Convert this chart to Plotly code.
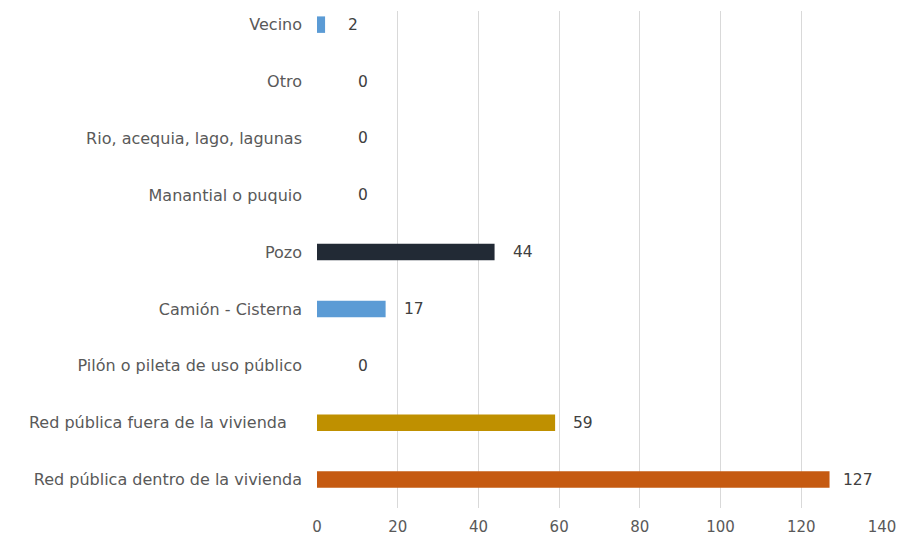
import plotly.graph_objects as go

categories = [
    "Red pública dentro de la vivienda",
    "Red pública fuera de la vivienda\u00a0\u00a0\u00a0",
    "Pilón o pileta de uso público",
    "Camión - Cisterna",
    "Pozo",
    "Manantial o puquio",
    "Rio, acequia, lago, lagunas",
    "Otro",
    "Vecino",
]
values = [127, 59, 0, 17, 44, 0, 0, 0, 2]
bar_colors = ["#C55A11", "#BF9000", "#5B9BD5", "#5B9BD5", "#222A35",
              "#5B9BD5", "#5B9BD5", "#5B9BD5", "#5B9BD5"]
x_ticks = [0, 20, 40, 60, 80, 100, 120, 140]

FONT = "DejaVu Sans"

fig = go.Figure()
fig.add_trace(go.Bar(
    x=values, y=categories, orientation="h",
    marker=dict(color=bar_colors, line=dict(width=0)),
    width=0.29, hoverinfo="skip",
))

for v, c in zip(values, categories):
    fig.add_annotation(
        x=v, y=c, text=str(v), showarrow=False,
        xanchor="center", yanchor="middle",
        xshift=46 if v == 0 else 28,
        font=dict(family=FONT, size=15.5, color="#404040"),
    )

# page body has an 8px default margin, so the figure is offset by 8px
fig.update_layout(
    width=898, height=532,
    margin=dict(l=309, r=24, t=3, b=31.5, autoexpand=False),
    paper_bgcolor="white", plot_bgcolor="white",
    showlegend=False,
    font=dict(family=FONT, size=16, color="#595959"),
    xaxis=dict(
        range=[0, 140], tickvals=x_ticks, showgrid=True,
        gridcolor="#D9D9D9", gridwidth=1, zeroline=False,
        showline=False, ticks="", ticklabelstandoff=8, automargin=False,
        tickfont=dict(family=FONT, size=15, color="#595959"),
    ),
    yaxis=dict(
        categoryorder="array", categoryarray=categories,
        range=[-0.5, 8.24], showgrid=False, zeroline=False,
        showline=False, ticks="", ticklabelstandoff=14, automargin=False,
        tickfont=dict(family=FONT, size=16, color="#595959"),
    ),
)

fig.write_html("out.html")
